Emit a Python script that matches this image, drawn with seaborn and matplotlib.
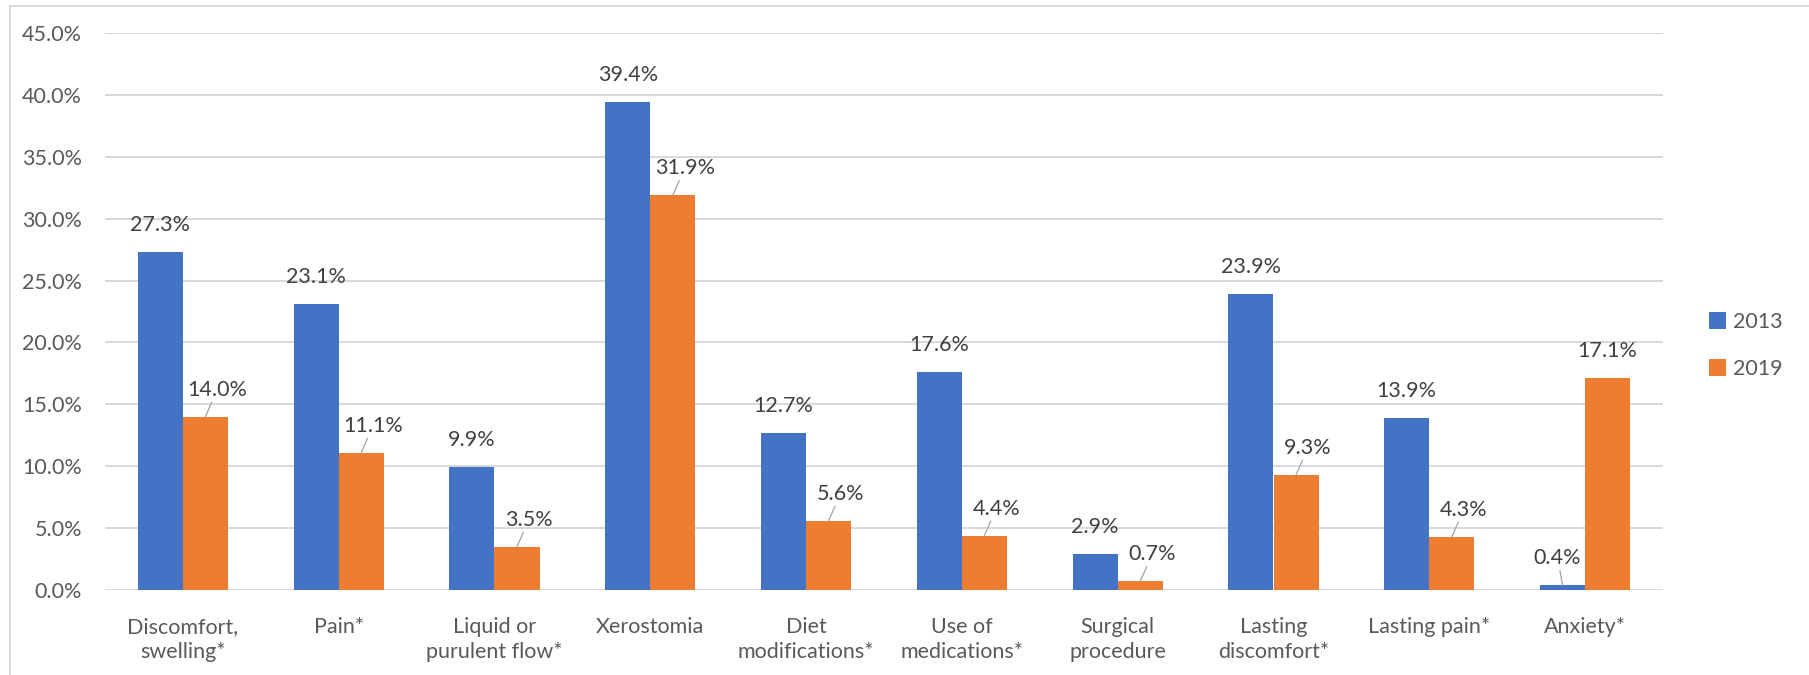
"""
Complications reported in 2013 vs 2019
======================================
Grouped bar chart with percentage labels, Excel-like styling.
"""

import pandas as pd
import matplotlib.pyplot as plt
import seaborn as sns
from matplotlib.lines import Line2D


# ---------------------------------------------------------------------------
# Data
# ---------------------------------------------------------------------------

categories = [
    "Discomfort,\nswelling*", "Pain*", "Liquid or\npurulent flow*", "Xerostomia",
    "Diet\nmodifications*", "Use of\nmedications*", "Surgical\nprocedure",
    "Lasting\ndiscomfort*", "Lasting pain*", "Anxiety*",
]
years = ["2013", "2019"]
values_2013 = [27.3, 23.1, 9.9, 39.4, 12.7, 17.6, 2.9, 23.9, 13.9, 0.4]
values_2019 = [14.0, 11.1, 3.5, 31.9, 5.6, 4.4, 0.7, 9.3, 4.3, 17.1]
y_ticks = [0, 5, 10, 15, 20, 25, 30, 35, 40, 45]

# ---------------------------------------------------------------------------
# Style
# ---------------------------------------------------------------------------

BLUE = "#4472C4"
ORANGE = "#ED7D31"
GRID = "#D9D9D9"
TICK_TXT = "#595959"
LABEL_TXT = "#404040"
FS = 21.5  # px == pt at dpi 72

# labels that were dragged sideways in the original (hue index, category) -> dx px
LABEL_SHIFT = {(1, i): 12 for i in range(9)}
LABEL_SHIFT[(0, 9)] = -5


def build_frame() -> pd.DataFrame:
    rows = []
    for cat, a, b in zip(categories, values_2013, values_2019):
        rows.append(dict(category=cat, year=years[0], value=a))
        rows.append(dict(category=cat, year=years[1], value=b))
    return pd.DataFrame(rows)


# ---------------------------------------------------------------------------
# Plot
# ---------------------------------------------------------------------------

def plot(df: pd.DataFrame) -> None:
    sns.set_style("white")
    plt.rcParams["font.family"] = ["Lato", "DejaVu Sans"]

    fig = plt.figure(figsize=(1809 / 72, 675 / 72), dpi=72)
    ax = fig.add_axes([105 / 1809, 85 / 675, 1558 / 1809, 557 / 675])

    sns.barplot(data=df, x="category", y="value", hue="year", order=categories,
                hue_order=years, palette={years[0]: BLUE, years[1]: ORANGE},
                width=0.578, saturation=1, gap=0, linewidth=0, edgecolor="none",
                ax=ax, legend=True)

    ax.set_ylim(0, 45)
    ax.set_xlim(-0.5, len(categories) - 0.5)
    ax.set_yticks(y_ticks)
    ax.set_yticklabels([f"{t:.1f}%" for t in y_ticks])
    ax.yaxis.grid(True, color=GRID, linewidth=2)
    ax.set_axisbelow(True)
    for s in ax.spines.values():
        s.set_visible(False)
    ax.axhline(0, color=GRID, linewidth=2.5, zorder=0.5)
    ax.tick_params(axis="y", length=0, pad=23, labelsize=FS, labelcolor=TICK_TXT)
    ax.tick_params(axis="x", length=0, pad=27, labelsize=FS, labelcolor=TICK_TXT)
    for t in ax.get_xticklabels():
        t.set_linespacing(1.3)
    ax.set_xlabel("")
    ax.set_ylabel("")

    # value labels
    for h, cont in enumerate(ax.containers):
        for i, bar in enumerate(cont):
            x = bar.get_x() + bar.get_width() / 2
            y = bar.get_height()
            dx = LABEL_SHIFT.get((h, i), 0)
            kw = {}
            if dx:
                kw["arrowprops"] = dict(arrowstyle="-", color="#A6A6A6", lw=1.3,
                                        shrinkA=0, shrinkB=0)
            ax.annotate(f"{y:.1f}%", xy=(x, y), xytext=(dx, 27),
                        textcoords="offset points", ha="center", va="center",
                        fontsize=FS, color=LABEL_TXT, **kw)

    # legend on the right
    ax.get_legend().remove()
    handles, labels = ax.get_legend_handles_labels()
    fig.legend(handles[:2], labels[:2], loc="center left",
               bbox_to_anchor=(1709 / 1809, 1 - 345.5 / 675), frameon=False,
               fontsize=FS, labelcolor=TICK_TXT, handlelength=0.81,
               handleheight=0.81, handletextpad=0.29, labelspacing=1.25,
               borderpad=0, borderaxespad=0)

    # chart-area border (top and left visible in the original)
    y_top = 1 - 6 / 675
    x_left = 10 / 1809
    fig.add_artist(Line2D([x_left, 1], [y_top, y_top], color=GRID, lw=2))
    fig.add_artist(Line2D([x_left, x_left], [0, y_top], color=GRID, lw=2))

    fig.savefig("out.png", dpi=72, facecolor="white")


# ---------------------------------------------------------------------------
# Entry Point
# ---------------------------------------------------------------------------

if __name__ == "__main__":
    plot(build_frame())
